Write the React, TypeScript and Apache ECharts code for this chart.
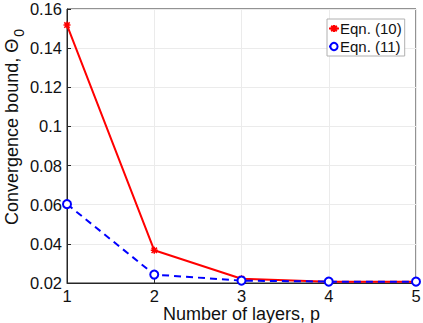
import React, { useEffect, useRef } from "react";
import * as echarts from "echarts";

const layers = [1, 2, 3, 4, 5];
const eqn10 = [0.1518, 0.0367, 0.0222, 0.0207, 0.0206];
const eqn11 = [0.0603, 0.0243, 0.0212, 0.0207, 0.0207];
const yTicks = [0.02, 0.04, 0.06, 0.08, 0.1, 0.12, 0.14, 0.16];

const FONT = "Liberation Sans, Arial, Helvetica, sans-serif";
const STAR = "path://M-1,-1L1,1M-1,1L1,-1M0,-1.3L0,1.3M-1.3,0L1.3,0";

export default function App() {
  const ref = useRef<HTMLDivElement>(null);
  useEffect(() => {
    const chart = echarts.init(ref.current!, null, { renderer: "svg" });
    chart.setOption({
      animation: false,
      backgroundColor: "#fff",
      textStyle: { fontFamily: FONT },
      grid: {
        left: 67, right: 7, top: 9, bottom: 40,
        containLabel: false, outerBoundsMode: "none",
        show: true, borderColor: "#262626", borderWidth: 1,
      },
      legend: {
        orient: "vertical",
        left: 327, top: 19,
        backgroundColor: "#fff",
        borderColor: "#b0b0b0", borderWidth: 1,
        padding: [2, 3, 2, 1],
        itemGap: 3, itemWidth: 10, itemHeight: 9,
        textStyle: { fontSize: 15, color: "#111", fontFamily: FONT, padding: [0, 0, 0, -4] },
        data: ["Eqn. (10)", "Eqn. (11)"],
      },
      xAxis: {
        type: "value", min: 1, max: 5, interval: 1,
        name: "Number of layers, p", nameLocation: "middle", nameGap: 22,
        nameMoveOverlap: false,
        nameTextStyle: { fontSize: 18, color: "#111", fontFamily: FONT },
        axisLine: { lineStyle: { color: "#262626" } },
        axisTick: { inside: true, length: 4, lineStyle: { color: "#262626" } },
        axisLabel: { fontSize: 16.5, color: "#111", margin: 4, fontFamily: FONT },
        splitLine: { show: true, lineStyle: { color: "#ebebeb" } },
      },
      yAxis: {
        type: "value", min: 0.02, max: 0.16, interval: 0.02,
        axisLine: { show: true, lineStyle: { color: "#262626" } },
        axisTick: { show: true, inside: true, length: 4, lineStyle: { color: "#262626" } },
        axisLabel: {
          fontSize: 16.5, color: "#111", margin: 5, fontFamily: FONT,
          formatter: (v: number) => {
            const t = yTicks.find((y) => Math.abs(y - v) < 1e-9);
            return t === undefined ? "" : String(parseFloat(t.toFixed(2)));
          },
        },
        splitLine: { show: true, lineStyle: { color: "#ebebeb" } },
      },
      graphic: [
        {
          type: "text",
          x: 12, y: 127,
          rotation: Math.PI / 2,
          style: {
            text: "{a|Convergence bound, Θ}{s|0}",
            align: "center", verticalAlign: "middle",
            rich: {
              a: { fontSize: 18, fill: "#111", fontFamily: FONT },
              s: { fontSize: 14, fill: "#111", fontFamily: FONT, padding: [14, 0, 0, 2] },
            },
          },
        },
      ],
      series: [
        {
          name: "Eqn. (10)",
          type: "line",
          data: layers.map((x, i) => [x, eqn10[i]]),
          symbol: STAR,
          symbolSize: 7,
          lineStyle: { color: "#ff0000", width: 2 },
          itemStyle: { color: "#ff0000", borderColor: "#ff0000", borderWidth: 1.5 },
          z: 2,
        },
        {
          name: "Eqn. (11)",
          type: "line",
          data: layers.map((x, i) => [x, eqn11[i]]),
          symbol: "emptyCircle",
          symbolSize: 8,
          lineStyle: { color: "#0000ff", width: 2, type: [7, 5] },
          itemStyle: { color: "#0000ff", borderColor: "#0000ff", borderWidth: 2 },
          z: 3,
        },
      ],
    });
    return () => chart.dispose();
  }, []);
  return <div ref={ref} style={{ width: 423, height: 323, position: "fixed", left: 0, top: 0 }} />;
}
